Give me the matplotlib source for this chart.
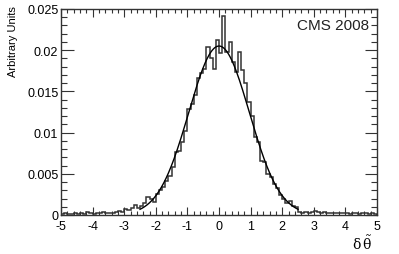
import numpy as np
import matplotlib
matplotlib.use("Agg")
import matplotlib.pyplot as plt
from matplotlib.ticker import MultipleLocator

# histogram: 100 bins of width 0.1 from -5 to 5
bin_edges = np.linspace(-5, 5, 101)
counts = [
    0.0001, 0.0002, 0.0001, 0.0001, 0.0002, 0.0001, 0.0002, 0.0001, 0.0004, 0.0002,
    0.0001, 0.0003, 0.0003, 0.0004, 0.0003, 0.0002, 0.0003, 0.0004, 0.0005, 0.0004,
    0.0007, 0.0006, 0.0009, 0.0012, 0.0008, 0.0011, 0.0014, 0.0022, 0.0019, 0.0016,
    0.0026, 0.0030, 0.0034, 0.0041, 0.0047, 0.0058, 0.0076, 0.0078, 0.0088, 0.0102,
    0.0128, 0.0135, 0.0145, 0.0166, 0.0172, 0.0177, 0.0204, 0.0190, 0.0177, 0.0212,
    0.0196, 0.0242, 0.0198, 0.0210, 0.0186, 0.0174, 0.0198, 0.0176, 0.0160, 0.0137,
    0.0120, 0.0095, 0.0089, 0.0066, 0.0064, 0.0050, 0.0046, 0.0037, 0.0033, 0.0024,
    0.0019, 0.0014, 0.0017, 0.0011, 0.0010, 0.0004, 0.0003, 0.0004, 0.0003, 0.0004,
    0.0005, 0.0004, 0.0003, 0.0004, 0.0002, 0.0003, 0.0002, 0.0003, 0.0002, 0.0002,
    0.0003, 0.0001, 0.0002, 0.0002, 0.0001, 0.0002, 0.0002, 0.0001, 0.0002, 0.0001,
]

# gaussian fit parameters
fit_amp = 0.0205
fit_mean = 0.0
fit_sigma = 0.96
fit_range = (-2.5, 2.5)

plt.rcParams["font.family"] = ["Liberation Sans", "DejaVu Sans"]
plt.rcParams["mathtext.fontset"] = "dejavuserif"
plt.rcParams["axes.unicode_minus"] = False

fig = plt.figure(figsize=(3.99, 2.55), dpi=100)
ax = fig.add_axes([0.153, 0.153, 0.792, 0.808])

ax.stairs(counts, bin_edges, color="#333333", lw=1.1)

xf = np.linspace(fit_range[0], fit_range[1], 400)
yf = fit_amp * np.exp(-0.5 * ((xf - fit_mean) / fit_sigma) ** 2)
ax.plot(xf, yf, color="black", lw=1.0)

ax.set_xlim(-5, 5)
ax.set_ylim(0, 0.025)
ax.xaxis.set_major_locator(MultipleLocator(1))
ax.xaxis.set_minor_locator(MultipleLocator(0.2))
ax.yaxis.set_minor_locator(MultipleLocator(0.001))
ax.set_yticks([0, 0.005, 0.01, 0.015, 0.02, 0.025])
ax.set_yticklabels(["0", "0.005", "0.01", "0.015", "0.02", "0.025"])

ax.tick_params(which="both", direction="in", top=True, right=True,
               labelsize=9, color="#333333", width=0.8)
ax.tick_params(axis="y", which="major", length=9, pad=2)
ax.tick_params(axis="y", which="minor", length=4.5)
ax.tick_params(axis="x", which="major", length=6, pad=3.5)
ax.tick_params(axis="x", which="minor", length=3)
for s in ax.spines.values():
    s.set_color("#333333")
    s.set_linewidth(1.0)

ax.set_ylabel("Arbitrary Units", fontsize=8, loc="top")
ax.yaxis.set_label_coords(-0.135, 1.02)
ax.set_xlabel(r"$\mathrm{\delta}\,\tilde{\mathrm{\theta}}$", fontsize=10, loc="right")
ax.xaxis.set_label_coords(0.985, -0.09)

ax.text(0.975, 0.955, "CMS 2008", transform=ax.transAxes,
        ha="right", va="top", fontsize=11, color="#222222")

fig.savefig("out.png", dpi=100)
